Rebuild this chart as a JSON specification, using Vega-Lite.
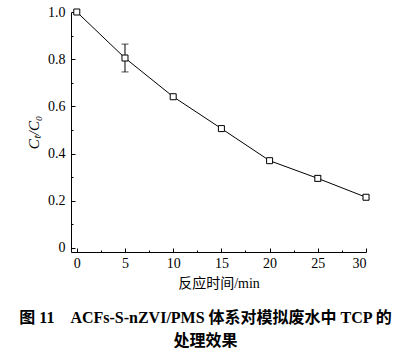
{
  "$schema": "https://vega.github.io/schema/vega-lite/v6.json",
  "width": 295,
  "height": 240,
  "autosize": "none",
  "padding": {"left": 71, "top": 12, "right": 49, "bottom": 100},
  "background": "white",
  "config": {"view": {"stroke": null}},
  "title": {
    "text": ["图 11\u00a0\u00a0\u00a0 ACFs-S-nZVI/PMS 体系对模拟废水中 TCP 的", "处理效果"],
    "orient": "bottom",
    "anchor": "middle",
    "frame": "group",
    "dx": -13,
    "offset": 20,
    "font": "Liberation Serif, Noto Sans CJK SC",
    "fontWeight": "bold",
    "fontSize": 16,
    "lineHeight": 23,
    "color": "#000"
  },
  "datasets": {
    "pts": [
      {"t": 0, "c": 1.0},
      {"t": 5, "c": 0.805},
      {"t": 10, "c": 0.641},
      {"t": 15, "c": 0.506},
      {"t": 20, "c": 0.37},
      {"t": 25, "c": 0.295},
      {"t": 30, "c": 0.215}
    ],
    "err": [
      {"t": 5, "lo": 0.746, "hi": 0.864},
      {"t": 25, "lo": 0.284, "hi": 0.306},
      {"t": 30, "lo": 0.208, "hi": 0.222}
    ]
  },
  "resolve": {"axis": {"x": "independent", "y": "independent"}},
  "layer": [
    {
      "data": {"name": "pts"},
      "mark": {"type": "line", "color": "#000", "strokeWidth": 1},
      "encoding": {
        "x": {
          "field": "t", "type": "quantitative",
          "scale": {"domain": [-0.6, 30], "nice": false, "zero": false},
          "axis": {
            "title": "反应时间/min",
            "values": [0, 5, 10, 15, 20, 25, 30],
            "grid": false,
            "domainColor": "#000",
            "tickColor": "#000",
            "tickSize": -4,
            "labelPadding": 8,
            "labelFont": "Liberation Serif",
            "labelFontSize": 14,
            "labelColor": "#000",
            "titleFont": "Liberation Serif, Noto Sans CJK SC",
            "titleFontSize": 14,
            "titleFontWeight": "normal",
            "titleColor": "#000",
            "titlePadding": 6
          }
        },
        "y": {
          "field": "c", "type": "quantitative",
          "scale": {"domain": [-0.017, 1.0], "nice": false, "zero": false},
          "axis": {
            "title": "Cₜ/C₀",
            "values": [0, 0.2, 0.4, 0.6, 0.8, 1.0],
            "labelExpr": "datum.value == 0 ? '0' : format(datum.value, '.1f')",
            "grid": false,
            "domainColor": "#000",
            "tickColor": "#000",
            "tickSize": -4,
            "labelPadding": 10,
            "labelFont": "Liberation Serif",
            "labelFontSize": 14,
            "labelColor": "#000",
            "titleFont": "Liberation Serif",
            "titleFontStyle": "italic",
            "titleFontSize": 15,
            "titleFontWeight": "normal",
            "titleColor": "#000",
            "titlePadding": 6
          }
        }
      }
    },
    {
      "data": {"name": "err"},
      "mark": {"type": "rule", "color": "#000", "strokeWidth": 1},
      "encoding": {
        "x": {
          "field": "t", "type": "quantitative",
          "scale": {"domain": [-0.6, 30], "nice": false, "zero": false},
          "axis": {
            "orient": "bottom",
            "title": null,
            "values": [2.5, 7.5, 12.5, 17.5, 22.5, 27.5],
            "labels": false,
            "domain": false,
            "grid": false,
            "tickColor": "#000",
            "tickSize": -2
          }
        },
        "y": {
          "field": "lo", "type": "quantitative",
          "scale": {"domain": [-0.017, 1.0], "nice": false, "zero": false},
          "axis": {
            "orient": "left",
            "title": null,
            "values": [0.1, 0.3, 0.5, 0.7, 0.9],
            "labels": false,
            "domain": false,
            "grid": false,
            "tickColor": "#000",
            "tickSize": -2
          }
        },
        "y2": {"field": "hi"}
      }
    },
    {
      "data": {"name": "err"},
      "mark": {"type": "tick", "color": "#000", "orient": "horizontal", "size": 7, "thickness": 1},
      "encoding": {
        "x": {"field": "t", "type": "quantitative", "scale": {"domain": [-0.6, 30], "nice": false, "zero": false}, "axis": null},
        "y": {"field": "lo", "type": "quantitative", "scale": {"domain": [-0.017, 1.0], "nice": false, "zero": false}, "axis": null}
      }
    },
    {
      "data": {"name": "err"},
      "mark": {"type": "tick", "color": "#000", "orient": "horizontal", "size": 7, "thickness": 1},
      "encoding": {
        "x": {"field": "t", "type": "quantitative", "scale": {"domain": [-0.6, 30], "nice": false, "zero": false}, "axis": null},
        "y": {"field": "hi", "type": "quantitative", "scale": {"domain": [-0.017, 1.0], "nice": false, "zero": false}, "axis": null}
      }
    },
    {
      "data": {"name": "pts"},
      "mark": {"type": "point", "shape": "square", "filled": true, "fill": "white", "stroke": "#000", "strokeWidth": 1, "size": 36, "opacity": 1},
      "encoding": {
        "x": {"field": "t", "type": "quantitative", "scale": {"domain": [-0.6, 30], "nice": false, "zero": false}, "axis": null},
        "y": {"field": "c", "type": "quantitative", "scale": {"domain": [-0.017, 1.0], "nice": false, "zero": false}, "axis": null}
      }
    }
  ]
}
